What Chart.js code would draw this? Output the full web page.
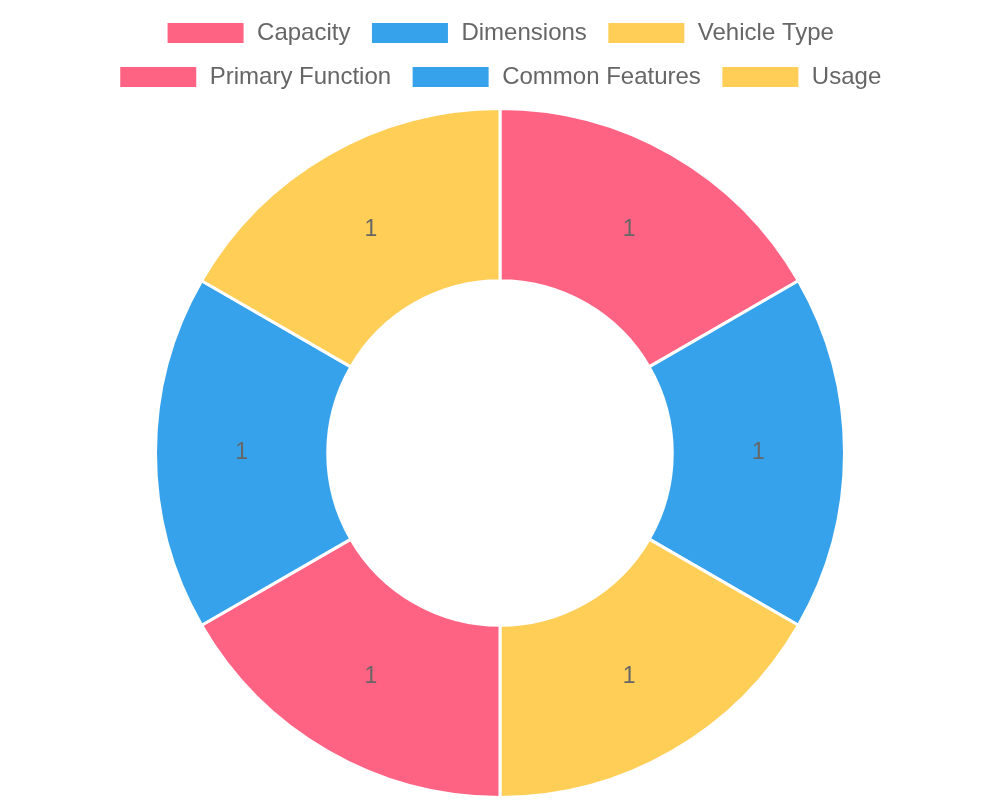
<!DOCTYPE html>
<html>
<head>
<meta charset="utf-8">
<script src="https://cdn.jsdelivr.net/npm/chart.js@4/dist/chart.umd.min.js"></script>
<style>
  html, body { margin: 0; padding: 0; background: #fff; }
  #wrap { width: 1000px; height: 800px; }
</style>
</head>
<body>
<div id="wrap"><canvas id="chart"></canvas></div>
<script>
const labels = ['Capacity', 'Dimensions', 'Vehicle Type', 'Primary Function', 'Common Features', 'Usage'];
const values = [1, 1, 1, 1, 1, 1];
const colors = ['#FF6384', '#36A2EB', '#FFCE56', '#FF6384', '#36A2EB', '#FFCE56'];

Chart.defaults.font.family = '"Liberation Sans", Arial, sans-serif';
Chart.defaults.color = '#666';

// draws the value in the middle of each slice
const sliceLabels = {
  id: 'sliceLabels',
  afterDatasetsDraw(chart) {
    const ctx = chart.ctx;
    const meta = chart.getDatasetMeta(0);
    ctx.save();
    ctx.font = '23px "Liberation Sans", Arial, sans-serif';
    ctx.fillStyle = '#666';
    ctx.textAlign = 'center';
    ctx.textBaseline = 'middle';
    meta.data.forEach((arc, i) => {
      const p = arc.tooltipPosition();
      ctx.fillText(String(chart.data.datasets[0].data[i]), p.x, p.y);
    });
    ctx.restore();
  }
};

// narrower legend rows (3 per line) and a bit more room under it
const legendFit = {
  id: 'legendFit',
  beforeInit(chart) {
    const fit = chart.legend.fit;
    chart.legend.fit = function () {
      this.maxWidth = Math.min(this.maxWidth, 820);
      fit.bind(chart.legend)();
      this.height += 8;
    };
  }
};

new Chart(document.getElementById('chart'), {
  type: 'doughnut',
  data: {
    labels: labels,
    datasets: [{
      data: values,
      backgroundColor: colors,
      borderColor: '#fff',
      borderWidth: 3
    }]
  },
  options: {
    responsive: true,
    maintainAspectRatio: false,
    animation: false,
    cutout: '50%',
    layout: { padding: { top: 1, bottom: 1 } },
    plugins: {
      legend: {
        position: 'top',
        labels: {
          boxWidth: 79,
          boxHeight: 23,
          padding: 20,
          font: { size: 24 }
        }
      },
      tooltip: { enabled: false }
    }
  },
  plugins: [sliceLabels, legendFit]
});
</script>
</body>
</html>
